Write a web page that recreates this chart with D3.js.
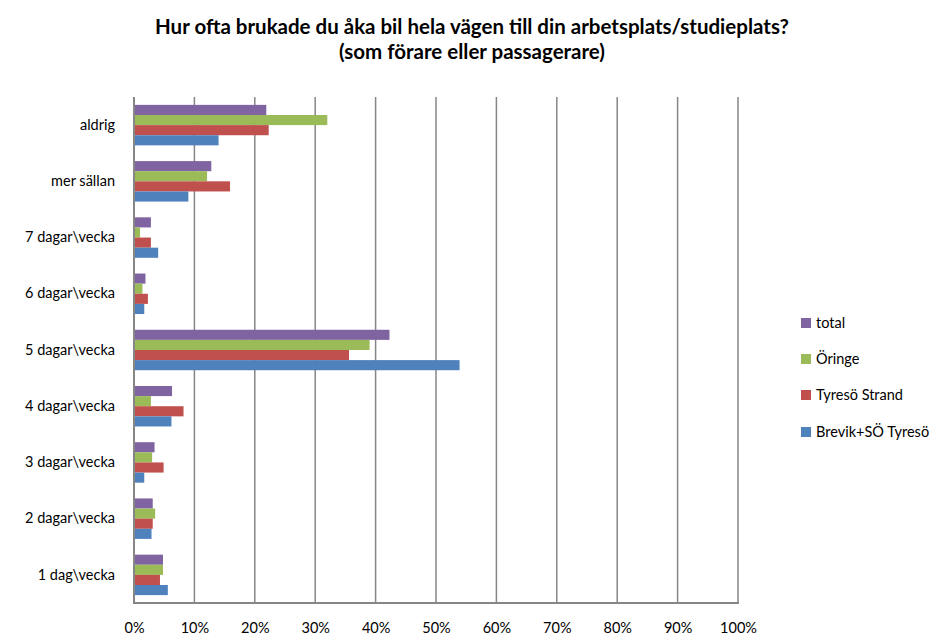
<!DOCTYPE html>
<html>
<head>
<meta charset="utf-8">
<script src="https://cdn.jsdelivr.net/npm/d3@7"></script>
<style>
  html, body { margin: 0; padding: 0; background: #fff; }
  svg { display: block; }
</style>
</head>
<body>
<svg id="chart" width="948" height="635"></svg>
<script>
const categories = ["aldrig", "mer sällan", "7 dagar\\vecka", "6 dagar\\vecka", "5 dagar\\vecka",
                    "4 dagar\\vecka", "3 dagar\\vecka", "2 dagar\\vecka", "1 dag\\vecka"];
const seriesNames = ["total", "Öringe", "Tyresö Strand", "Brevik+SÖ Tyresö"];
const total    = [21.9, 12.8, 2.8, 1.9, 42.3, 6.3, 3.4, 3.1, 4.8];
const oringe   = [32.0, 12.1, 1.0, 1.4, 39.0, 2.8, 3.0, 3.5, 4.8];
const tyresoStrand = [22.3, 15.9, 2.8, 2.3, 35.6, 8.2, 4.9, 3.1, 4.3];
const brevik   = [14.0, 9.0, 4.0, 1.7, 53.9, 6.2, 1.7, 2.9, 5.6];
const xTicks = [0, 10, 20, 30, 40, 50, 60, 70, 80, 90, 100];
const colors = ["#8064A2", "#9BBB59", "#C0504D", "#4F81BD"];
const titleLines = ["Hur ofta brukade du åka bil hela vägen till din arbetsplats/studieplats?",
                    "(som förare eller passagerare)"];

const seriesValues = [total, oringe, tyresoStrand, brevik];
const font = "Lato, 'Liberation Sans', sans-serif";

const svg = d3.select("#chart");

const x = d3.scaleLinear().domain([0, 100]).range([134, 738]);
const y = d3.scaleBand().domain(categories).range([97, 603]).paddingInner(0.28).paddingOuter(0.14);
const ySub = d3.scaleBand().domain(seriesNames).range([0, y.bandwidth()]);

// Title
svg.append("g").selectAll("text").data(titleLines).join("text")
  .attr("x", 472).attr("y", (d, i) => 34 + i * 25)
  .attr("text-anchor", "middle")
  .attr("font-family", font).attr("font-weight", "bold").attr("font-size", 20.5)
  .attr("fill", "#000")
  .text(d => d);

// Grid lines
svg.append("g").selectAll("line").data(xTicks.slice(1)).join("line")
  .attr("x1", d => x(d)).attr("x2", d => x(d))
  .attr("y1", 97).attr("y2", 603)
  .attr("stroke", "#868686").attr("stroke-width", 1.5);

// Bars
const groups = svg.append("g").selectAll("g").data(categories).join("g")
  .attr("transform", d => `translate(0,${y(d)})`);
groups.selectAll("rect")
  .data((c, ci) => seriesNames.map((s, si) => ({ s, si, v: seriesValues[si][ci] })))
  .join("rect")
  .attr("x", x(0) + 1)
  .attr("y", d => ySub(d.s))
  .attr("width", d => x(d.v) - x(0) - 1)
  .attr("height", ySub.bandwidth())
  .attr("fill", d => colors[d.si]);

// Axes lines
svg.append("line").attr("x1", 134).attr("x2", 134).attr("y1", 97).attr("y2", 603)
  .attr("stroke", "#868686").attr("stroke-width", 2);
svg.append("line").attr("x1", 133).attr("x2", 739).attr("y1", 603).attr("y2", 603)
  .attr("stroke", "#868686").attr("stroke-width", 2);

// X tick labels
const xAxis = d3.axisBottom(x).tickValues(xTicks).tickFormat(d => d + "%").tickSize(0).tickPadding(20);
const xg = svg.append("g").attr("transform", "translate(0,603)").call(xAxis);
xg.select(".domain").remove();
xg.selectAll("text").attr("font-family", font).attr("font-size", 14.5).attr("fill", "#000");

// Y labels
const yAxis = d3.axisLeft(y).tickSize(0).tickPadding(19);
const yg = svg.append("g").attr("transform", "translate(134,0)").call(yAxis);
yg.select(".domain").remove();
yg.selectAll("text").attr("font-family", font).attr("font-size", 14.5).attr("fill", "#000");

// Legend
const legendY = [323, 359, 395, 432];
const lg = svg.append("g").selectAll("g").data(seriesNames).join("g")
  .attr("transform", (d, i) => `translate(801,${legendY[i]})`);
lg.append("rect").attr("x", 0).attr("y", -5).attr("width", 10).attr("height", 10)
  .attr("fill", (d, i) => colors[i]);
lg.append("text").attr("x", 15).attr("y", 0).attr("dy", "0.35em")
  .attr("font-family", font).attr("font-size", 14.5).attr("fill", "#000")
  .text(d => d);
</script>
</body>
</html>
